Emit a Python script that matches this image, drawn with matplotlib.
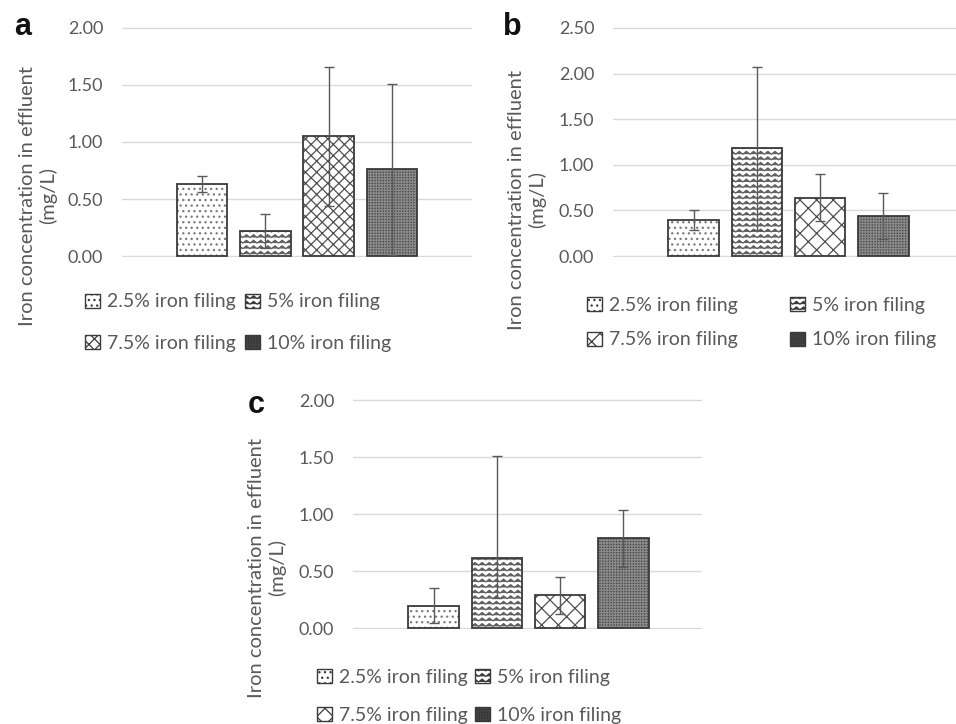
import warnings
warnings.filterwarnings("ignore")
import numpy as np
import matplotlib
matplotlib.use("Agg")
import matplotlib.pyplot as plt
from matplotlib import hatch as mhatch
from matplotlib.path import Path
from matplotlib.patches import Patch

# ---------------- data ----------------
series = ['2.5% iron filing', '5% iron filing', '7.5% iron filing', '10% iron filing']
a_vals = [0.63, 0.22, 1.05, 0.76]
a_err_low = [0.07, 0.15, 0.61, 0.75]
a_err_up = [0.07, 0.15, 0.61, 0.75]
b_vals = [0.40, 1.18, 0.64, 0.44]
b_err_low = [0.11, 0.89, 0.26, 0.25]
b_err_up = [0.11, 0.89, 0.26, 0.25]
c_vals = [0.20, 0.62, 0.29, 0.79]
c_err_low = [0.15, 0.35, 0.16, 0.25]
c_err_up = [0.15, 0.89, 0.16, 0.25]
a_ticks = [0.0, 0.5, 1.0, 1.5, 2.0]
b_ticks = [0.0, 0.5, 1.0, 1.5, 2.0, 2.5]
c_ticks = [0.0, 0.5, 1.0, 1.5, 2.0]
ylabel_text = 'Iron concentration in effluent\n(mg/L)'


# ---------------- custom zigzag hatch ----------------
class ZigzagHatch(mhatch.HatchPatternBase):
    def __init__(self, hatch, density):
        self.num_lines = int(hatch.count('~') * density)
        self.num_peaks = 14
        self.num_vertices = self.num_lines * (2 * self.num_peaks + 1)

    def set_vertices_and_codes(self, vertices, codes):
        npts = 2 * self.num_peaks + 1
        xs = np.linspace(0, 1, npts)
        offs = np.where(np.arange(npts) % 2 == 0, -1, 1) * 0.014
        for i in range(self.num_lines):
            y0 = (i + 0.5) / self.num_lines
            sl = slice(i * npts, (i + 1) * npts)
            vertices[sl, 0] = xs
            vertices[sl, 1] = y0 + offs
            codes[sl] = Path.LINETO
            codes[i * npts] = Path.MOVETO


mhatch._hatch_types.append(ZigzagHatch)

plt.rcParams['hatch.linewidth'] = 0.9
plt.rcParams['font.family'] = ['Lato', 'DejaVu Sans']

W, H = 956, 724
fig = plt.figure(figsize=(W / 100, H / 100), dpi=100)
TXT = '#595959'

styles = [
    dict(face='white', hcol='#7a7a7a', hatch='...'),
    dict(face='white', hcol='#606060', hatch='~~~'),
    dict(face='white', hcol='#4f4f4f', hatch='xx'),
    dict(face='#4a4a4a', hcol='#8a8a8a', hatch='++++++'),
]


def px_rect(l, t, r, b):
    return [l / W, 1 - b / H, (r - l) / W, (b - t) / H]


def draw_panel(rect, xlim, vals, lo, up, ticks, ymax, letter, letter_xy,
               ylab_xy, leg_pos, hatch_override=None):
    ax = fig.add_axes(rect)
    x = np.arange(len(vals))
    for i in range(len(vals)):
        st = dict(styles[i])
        if hatch_override and i in hatch_override:
            st['hatch'] = hatch_override[i]
        ax.bar(x[i], vals[i], width=0.8, color=st['face'], edgecolor=st['hcol'],
               hatch=st['hatch'], linewidth=0, zorder=2)
        ax.bar(x[i], vals[i], width=0.8, fill=False, edgecolor='#3a3a3a',
               linewidth=1.3, zorder=3)
    ax.errorbar(x, vals, yerr=[lo, up], fmt='none', ecolor='#595959',
                elinewidth=1, capsize=3.3, capthick=1, zorder=4)
    ax.set_xlim(*xlim)
    ax.set_ylim(-0.004 * ymax, ymax * 1.004)
    ax.set_yticks(ticks)
    ax.set_yticklabels([f'{t:.2f}' for t in ticks])
    ax.set_xticks([])
    ax.tick_params(axis='y', length=0, pad=13.5, labelsize=13, labelcolor=TXT)
    for s in ax.spines.values():
        s.set_visible(False)
    ax.yaxis.grid(True, color='#d9d9d9', linewidth=1, zorder=0)
    ax.set_axisbelow(True)

    fig.text(letter_xy[0] / W, 1 - letter_xy[1] / H, letter, fontsize=22,
             fontweight='bold', family='Liberation Sans', ha='center', va='center',
             color='#111111')
    fig.text(ylab_xy[0] / W, 1 - ylab_xy[1] / H, ylabel_text, rotation=90,
             fontsize=14.5, ha='center', va='center', multialignment='center',
             color=TXT, linespacing=1.25)

    for i, (px, py) in enumerate(leg_pos):
        st = dict(styles[i])
        if hatch_override and i in hatch_override:
            st['hatch'] = hatch_override[i]
        h = Patch(facecolor=st['face'], edgecolor='#3a3a3a', hatch=st['hatch'],
                  linewidth=1)
        leg = fig.legend([h], [series[i]], loc='center left',
                         bbox_to_anchor=(px / W, 1 - py / H),
                         frameon=False, borderpad=0, borderaxespad=0,
                         handlelength=0.75, handleheight=0.75,
                         handletextpad=0.4, fontsize=14)
        for t in leg.get_texts():
            t.set_color(TXT)
    return ax


# panel a
draw_panel(px_rect(122, 27, 472, 257), (-1.265, 4.265), a_vals, a_err_low, a_err_up,
           a_ticks, 2.0, 'a', (23, 27), (38, 196),
           [(85, 302), (245, 302), (85, 343), (245, 343)],
           hatch_override={2: 'xxx'})
# panel b
draw_panel(px_rect(613, 27, 956, 257), (-1.272, 4.146), b_vals, b_err_low, b_err_up,
           b_ticks, 2.5, 'b', (512, 27), (527, 200),
           [(587, 305), (790, 305), (587, 340), (790, 340)])
# panel c
draw_panel(px_rect(353, 399.3, 702, 629.3), (-1.277, 4.245), c_vals, c_err_low, c_err_up,
           c_ticks, 2.0, 'c', (256, 405), (267, 568),
           [(317, 677), (475, 677), (317, 715), (475, 715)])

fig.savefig('out.png', dpi=100, facecolor='white')
